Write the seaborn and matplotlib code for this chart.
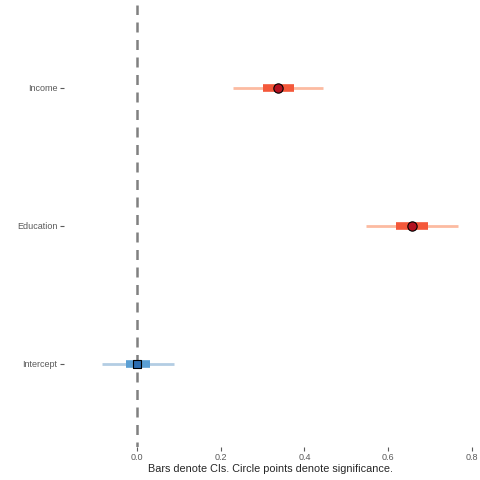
import numpy as np
import pandas as pd
import matplotlib
matplotlib.use("Agg")
import matplotlib.pyplot as plt
import seaborn as sns

terms = ["Intercept", "Education", "Income"]
estimate = [0.0, 0.656, 0.338]
inner_lo = [-0.026, 0.620, 0.302]
inner_hi = [0.031, 0.695, 0.374]
outer_lo = [-0.084, 0.548, 0.230]
outer_hi = [0.089, 0.766, 0.445]
significant = [False, True, True]

df = pd.DataFrame({"term": terms, "estimate": estimate,
                   "inner_lo": inner_lo, "inner_hi": inner_hi,
                   "outer_lo": outer_lo, "outer_hi": outer_hi,
                   "sig": significant})
df["y"] = np.arange(1, len(df) + 1)

sns.set_style("white")
plt.rcParams['font.family'] = ['Liberation Sans', 'DejaVu Sans']

fig = plt.figure(figsize=(4.8, 4.8), dpi=100)
ax = fig.add_axes([0.133, 0.069, 0.863, 0.921])

# reference line at zero
ax.axvline(0, color="#808080", lw=1.8, ls=(2, (4, 3)), zorder=1)

light = {True: "#fcbba1", False: "#b3cde3"}
mid = {True: "#f4583a", False: "#5a9fd4"}
dark = {True: "#b3101f", False: "#2b6cb0"}

for _, r in df.iterrows():
    ax.hlines(r.y, r.outer_lo, r.outer_hi, color=light[r.sig], lw=2, zorder=2)
    ax.hlines(r.y, r.inner_lo, r.inner_hi, color=mid[r.sig], lw=5.5, zorder=3)

sig = df[df.sig]
nsig = df[~df.sig]
sns.scatterplot(data=sig, x="estimate", y="y", marker="o", s=45,
                color=dark[True], edgecolor="black", linewidth=0.8, ax=ax, zorder=4)
sns.scatterplot(data=nsig, x="estimate", y="y", marker="s", s=40,
                color=dark[False], edgecolor="black", linewidth=0.8, ax=ax, zorder=4)

ax.set_xlim(-0.175, 0.815)
ax.set_ylim(0.4, 3.6)
ax.set_xticks([0.0, 0.2, 0.4, 0.6, 0.8])
ax.set_xticklabels(["0.0", "0.2", "0.4", "0.6", "0.8"])
ax.set_yticks(df["y"])
ax.set_yticklabels(df["term"])
ax.tick_params(axis="both", labelsize=6.5, labelcolor="#5a5a5a", color="#5a5a5a",
               length=3, width=0.8, left=True, bottom=True, pad=1.5)
for s in ax.spines.values():
    s.set_visible(False)
ax.set_xlabel("Bars denote CIs. Circle points denote significance.", fontsize=7.8, labelpad=1.5)
ax.set_ylabel("")

fig.savefig("out.png", dpi=100)
